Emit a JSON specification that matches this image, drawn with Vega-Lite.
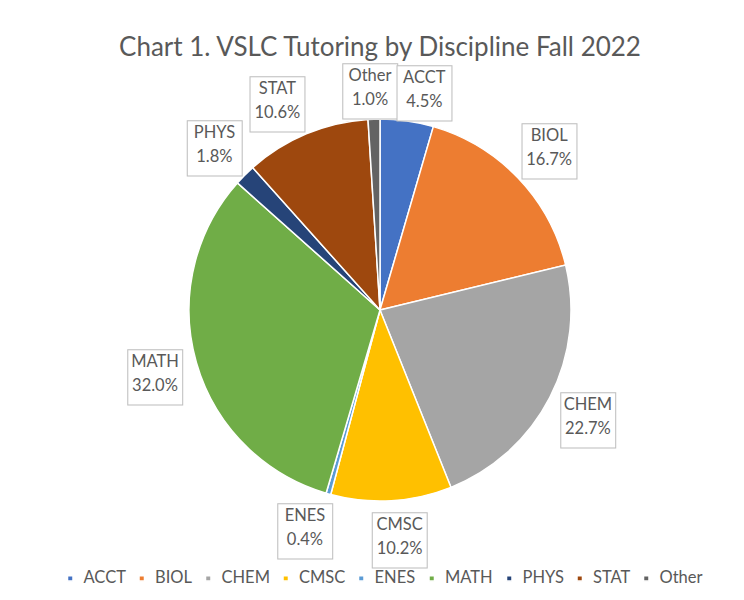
{
  "$schema": "https://vega.github.io/schema/vega-lite/v6.json",
  "autosize": {"type": "pad"},
  "width": 728,
  "height": 482,
  "padding": {"left": 16, "top": 35, "right": 0, "bottom": 0},
  "background": "white",
  "config": {
    "view": {"stroke": null},
    "font": "Lato",
    "style": {
      "nm": {"font": "Lato", "fontSize": 16.5, "color": "#595959", "dy": -12},
      "val": {"font": "Lato", "fontSize": 16.5, "color": "#595959", "dy": 12},
      "box": {"font": "DejaVu Sans", "fontSize": 72}
    }
  },
  "title": {
    "text": "Chart 1. VSLC Tutoring by Discipline Fall 2022",
    "font": "Lato",
    "fontSize": 26,
    "fontWeight": "normal",
    "color": "#595959",
    "anchor": "middle",
    "frame": "group",
    "offset": -21
  },
  "data": {
    "values": [
      {"discipline": "ACCT", "share": 0.045, "rank": 1},
      {"discipline": "BIOL", "share": 0.167, "rank": 2},
      {"discipline": "CHEM", "share": 0.227, "rank": 3},
      {"discipline": "CMSC", "share": 0.102, "rank": 4},
      {"discipline": "ENES", "share": 0.004, "rank": 5},
      {"discipline": "MATH", "share": 0.320, "rank": 6},
      {"discipline": "PHYS", "share": 0.018, "rank": 7},
      {"discipline": "STAT", "share": 0.106, "rank": 8},
      {"discipline": "Other", "share": 0.010, "rank": 9}
    ]
  },
  "encoding": {
    "theta": {"field": "share", "type": "quantitative", "stack": true},
    "order": {"field": "rank", "type": "quantitative"}
  },
  "layer": [
    {
      "mark": {"type": "arc", "outerRadius": 191, "stroke": "white", "strokeWidth": 1.5},
      "encoding": {
        "color": {
          "field": "discipline",
          "type": "nominal",
          "scale": {
            "domain": ["ACCT", "BIOL", "CHEM", "CMSC", "ENES", "MATH", "PHYS", "STAT", "Other"],
            "range": ["#4472C4", "#ED7D31", "#A5A5A5", "#FFC000", "#5B9BD5", "#70AD47", "#264478", "#9E480E", "#636363"]
          },
          "legend": {
            "title": null,
            "orient": "none",
            "direction": "horizontal",
            "legendX": 46,
            "legendY": 501,
            "symbolType": "square",
            "symbolSize": 30,
            "labelFont": "Lato",
            "labelFontSize": 16.5,
            "labelColor": "#595959",
            "labelOffset": 5,
            "columnPadding": 7.5,
            "padding": 0
          }
        }
      }
    },
    {
      "encoding": {"opacity": {"condition": {"test": "indexof(['BIOL','CHEM','MATH','PHYS'], datum.discipline) >= 0", "value": 1}, "value": 0}},
      "layer": [
        {"mark": {"type": "text", "style": "box", "radius": 234, "text": "■", "fill": "white", "stroke": "#BFBFBF", "strokeWidth": 1}},
        {"mark": {"type": "text", "style": "nm", "radius": 234}, "encoding": {"text": {"field": "discipline", "type": "nominal"}}},
        {"mark": {"type": "text", "style": "val", "radius": 234}, "encoding": {"text": {"field": "share", "type": "quantitative", "format": ".1%"}}}
      ]
    },
    {
      "encoding": {"opacity": {"condition": {"test": "datum.discipline === 'Other'", "value": 1}, "value": 0}},
      "layer": [
        {"mark": {"type": "text", "style": "box", "radius": 222, "dx": -3, "text": "■", "fill": "white", "stroke": "#BFBFBF", "strokeWidth": 1}},
        {"mark": {"type": "text", "style": "nm", "radius": 222, "dx": -3}, "encoding": {"text": {"field": "discipline", "type": "nominal"}}},
        {"mark": {"type": "text", "style": "val", "radius": 222, "dx": -3}, "encoding": {"text": {"field": "share", "type": "quantitative", "format": ".1%"}}}
      ]
    },
    {
      "encoding": {"opacity": {"condition": {"test": "datum.discipline === 'ACCT'", "value": 1}, "value": 0}},
      "layer": [
        {"mark": {"type": "text", "style": "box", "radius": 222, "dx": 13, "text": "■", "fill": "white", "stroke": "#BFBFBF", "strokeWidth": 1}},
        {"mark": {"type": "text", "style": "nm", "radius": 222, "dx": 13}, "encoding": {"text": {"field": "discipline", "type": "nominal"}}},
        {"mark": {"type": "text", "style": "val", "radius": 222, "dx": 13}, "encoding": {"text": {"field": "share", "type": "quantitative", "format": ".1%"}}}
      ]
    },
    {
      "encoding": {"opacity": {"condition": {"test": "datum.discipline === 'STAT'", "value": 1}, "value": 0}},
      "layer": [
        {"mark": {"type": "text", "style": "box", "radius": 227, "dx": -15, "text": "■", "fill": "white", "stroke": "#BFBFBF", "strokeWidth": 1}},
        {"mark": {"type": "text", "style": "nm", "radius": 227, "dx": -15}, "encoding": {"text": {"field": "discipline", "type": "nominal"}}},
        {"mark": {"type": "text", "style": "val", "radius": 227, "dx": -15}, "encoding": {"text": {"field": "share", "type": "quantitative", "format": ".1%"}}}
      ]
    },
    {
      "encoding": {"opacity": {"condition": {"test": "datum.discipline === 'CMSC'", "value": 1}, "value": 0}},
      "layer": [
        {"mark": {"type": "text", "style": "box", "radius": 227, "dx": 6, "text": "■", "fill": "white", "stroke": "#BFBFBF", "strokeWidth": 1}},
        {"mark": {"type": "text", "style": "nm", "radius": 227, "dx": 6}, "encoding": {"text": {"field": "discipline", "type": "nominal"}}},
        {"mark": {"type": "text", "style": "val", "radius": 227, "dx": 6}, "encoding": {"text": {"field": "share", "type": "quantitative", "format": ".1%"}}}
      ]
    },
    {
      "encoding": {"opacity": {"condition": {"test": "datum.discipline === 'ENES'", "value": 1}, "value": 0}},
      "layer": [
        {"mark": {"type": "text", "style": "box", "radius": 226, "dx": -14, "text": "■", "fill": "white", "stroke": "#BFBFBF", "strokeWidth": 1}},
        {"mark": {"type": "text", "style": "nm", "radius": 226, "dx": -14}, "encoding": {"text": {"field": "discipline", "type": "nominal"}}},
        {"mark": {"type": "text", "style": "val", "radius": 226, "dx": -14}, "encoding": {"text": {"field": "share", "type": "quantitative", "format": ".1%"}}}
      ]
    }
  ]
}
